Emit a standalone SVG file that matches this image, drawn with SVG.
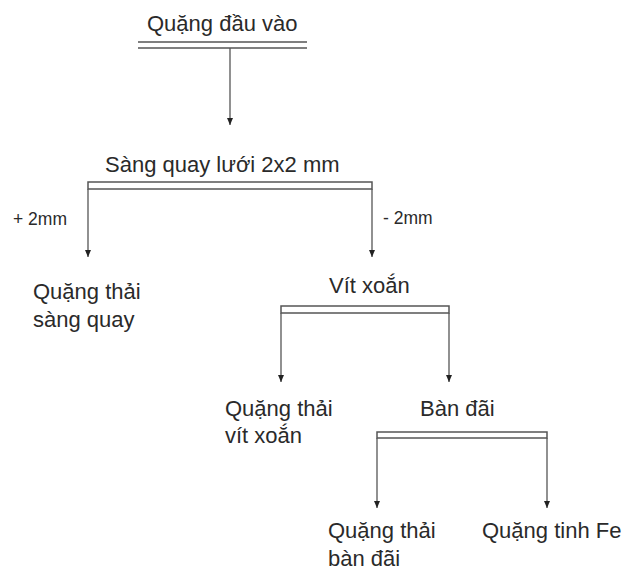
<svg xmlns="http://www.w3.org/2000/svg" width="635" height="577" viewBox="0 0 635 577">
  <defs>
    <marker id="arrow" viewBox="0 0 7 6" refX="7" refY="3" markerWidth="7" markerHeight="6" markerUnits="userSpaceOnUse" orient="auto">
      <path d="M0,0 L7,3 L0,6 Z" fill="#222"/>
    </marker>
    <style>
      .lbl { font-family: "Liberation Sans", Arial, sans-serif; font-size: 22px; fill: #2a2a2a; }
      .small { font-family: "Liberation Sans", Arial, sans-serif; font-size: 17.5px; fill: #2a2a2a; }
      .bar { fill: none; stroke: #555; stroke-width: 1.5; }
      .flow { fill: none; stroke: #555; stroke-width: 1.3; }
    </style>
  </defs>
  <rect width="635" height="577" fill="#fff"/>

  <!-- process nodes -->
  <g id="feed">
    <text class="lbl" x="147" y="31">Quặng đầu vào</text>
    <line class="bar" x1="138" y1="42" x2="307" y2="42"/>
    <line class="bar" x1="138" y1="48" x2="307" y2="48"/>
  </g>
  <g id="screen">
    <text class="lbl" x="105" y="172">Sàng quay lưới 2x2 mm</text>
    <rect class="bar" x="88" y="182" width="284" height="7"/>
  </g>
  <g id="screen-tailings">
    <text class="lbl" x="33" y="299">Quặng thải</text>
    <text class="lbl" x="33" y="327">sàng quay</text>
  </g>
  <g id="spiral">
    <text class="lbl" x="329" y="293">Vít xoắn</text>
    <rect class="bar" x="281" y="306" width="168" height="7"/>
  </g>
  <g id="spiral-tailings">
    <text class="lbl" x="225" y="416">Quặng thải</text>
    <text class="lbl" x="225" y="443">vít xoắn</text>
  </g>
  <g id="table">
    <text class="lbl" x="420" y="416">Bàn đãi</text>
    <rect class="bar" x="377" y="432" width="170" height="6"/>
  </g>
  <g id="table-tailings">
    <text class="lbl" x="328" y="538">Quặng thải</text>
    <text class="lbl" x="328" y="566">bàn đãi</text>
  </g>
  <g id="concentrate">
    <text class="lbl" x="482" y="538">Quặng tinh Fe</text>
  </g>

  <!-- connectors -->
  <g id="connectors">
    <path class="flow" d="M230,48 V125" marker-end="url(#arrow)"/>
    <path class="flow" d="M88,189 V257" marker-end="url(#arrow)"/>
    <path class="flow" d="M372,189 V257" marker-end="url(#arrow)"/>
    <path class="flow" d="M281,313 V382" marker-end="url(#arrow)"/>
    <path class="flow" d="M449,313 V382" marker-end="url(#arrow)"/>
    <path class="flow" d="M377,438 V508" marker-end="url(#arrow)"/>
    <path class="flow" d="M547,438 V508" marker-end="url(#arrow)"/>
    <text class="small" x="13" y="225">+ 2mm</text>
    <text class="small" x="383" y="224">- 2mm</text>
  </g>
</svg>
